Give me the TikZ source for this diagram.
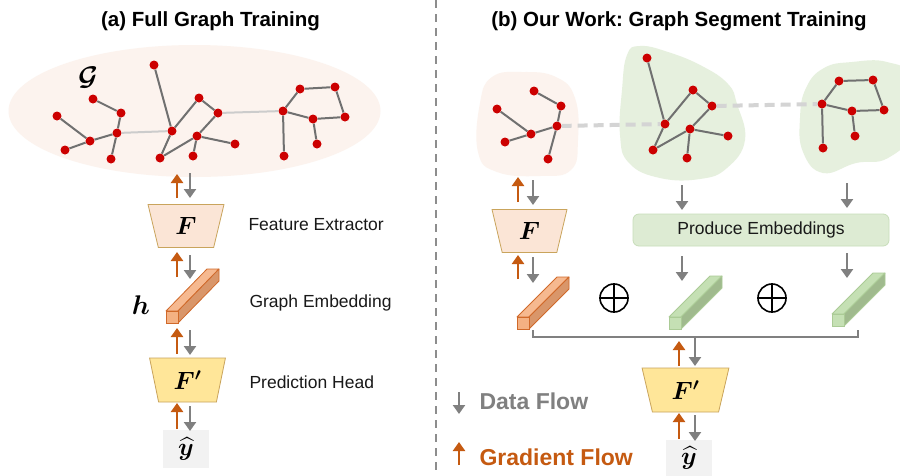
\RequirePackage{fix-cm}
\documentclass[tikz,border=0pt]{standalone}
\usepackage{fontspec}
\setmainfont{Liberation Sans}
\usepackage{amsmath,bm}
\usetikzlibrary{arrows.meta,shapes.geometric,calc}
\frenchspacing
\definecolor{ored}{HTML}{C55A11}
\definecolor{agray}{HTML}{808080}
\definecolor{vred}{HTML}{CC0000}
\definecolor{egray}{HTML}{707070}
\definecolor{peach}{HTML}{FCF3EE}
\definecolor{gblob}{HTML}{E6F0DE}
\definecolor{trapF}{HTML}{FBE5D6}
\definecolor{trapFp}{HTML}{FFE699}
\definecolor{trapdraw}{HTML}{C9A45C}
\definecolor{pebox}{HTML}{DDEBD3}
\definecolor{pebord}{HTML}{C8DEBA}
\definecolor{yhbox}{HTML}{F2F2F2}
\definecolor{oFront}{HTML}{F4B183}
\definecolor{oTop}{HTML}{F6B990}
\definecolor{oSide}{HTML}{D9966A}
\definecolor{oBord}{HTML}{D0692A}
\definecolor{gFront}{HTML}{C5E0B4}
\definecolor{gTop}{HTML}{C5E0B4}
\definecolor{gSide}{HTML}{A0BA8E}
\definecolor{gBord}{HTML}{ABCB96}
\newcommand\embbar[8]{%
  \filldraw[fill=#7,draw=#8,line width=0.8pt,line join=round] (#1,#2) -- ++(12,0) -- ++(#3,#4) -- ++(-12,0) -- cycle;
  \filldraw[fill=#6,draw=#8,line width=0.8pt,line join=round] (#1+12,#2) -- ++(0,12) -- ++(#3,#4) -- ++(0,-12) -- cycle;
  \filldraw[fill=#5,draw=#8,line width=0.8pt] (#1,#2) rectangle ++(12,12);
}
\tikzset{
  vtx/.style={circle, fill=vred, inner sep=0pt, minimum size=9pt},
  edg/.style={draw=egray, line width=2pt},
  lite/.style={draw=black!20, line width=2pt},
  seglink/.style={draw=black!17, line width=4pt, dash pattern=on 10pt off 6pt},
  darr/.style={draw=agray, line width=2.8pt, -{Triangle[width=12pt,length=9pt]}},
  garr/.style={draw=ored, line width=2.8pt, -{Triangle[width=12pt,length=9pt]}},
  trap/.style={trapezium, shape border rotate=180, trapezium stretches=true,
    trapezium left angle=77, trapezium right angle=77, draw=trapdraw, line width=0.8pt,
    inner sep=0pt, font=\fontsize{25}{30}\selectfont},
  lbl/.style={font=\fontsize{17.5}{21}\selectfont, anchor=base west, text=black!90},
  ttl/.style={font=\fontsize{20.5}{24}\selectfont\bfseries, anchor=base},
  oplus/.style={circle, draw=black, line width=1.6pt, minimum size=28pt, inner sep=0pt},
  yhat/.style={fill=yhbox, minimum width=46pt, inner sep=0pt, font=\fontsize{25}{30}\selectfont},
  blob/.style={smooth cycle, tension=0.75}
}
\begin{document}
\begin{tikzpicture}[x=1pt,y=-1pt]
\clip (0,0) rectangle (900,475);
\fill[white] (0,0) rectangle (900,475);
% titles
\node[ttl] (ta) at (210.5,26) {(a) Full Graph Training};
\node[ttl] (tb) at (679,26) {(b) Our Work: Graph Segment Training};
% divider
\draw[agray!90, line width=1.8pt, dash pattern=on 8pt off 6pt] (436,0) -- (436,475);

% ---------- left: full graph ----------
\node[ellipse, fill=peach, minimum width=372pt, minimum height=132pt, inner sep=0pt] (Gell) at (194.5,111) {};
\node[font=\fontsize{27}{32}\selectfont] (Glbl) at (88,78) {$\bm{\mathcal{G}}$};
\foreach \n/\x/\y in {L1/93/99, L2/121/113, L3/57/116, L4/117/133, L5/90/141, L6/65/150, L7/111/159,
  L8/154/65, L9/199/98, L10/218/113, L11/172/131, L12/197/136, L13/235/144, L14/160/158, L15/193/156,
  L16/283/111, L17/300/89, L18/335/87, L19/313/119, L20/345/117, L21/317/144, L22/284/156}
  {\node[vtx] (\n) at (\x,\y) {};}
\foreach \a/\b in {L1/L2, L2/L4, L3/L5, L5/L4, L6/L5, L4/L7, L8/L11, L11/L9, L9/L10, L10/L12, L12/L14,
  L14/L11, L12/L13, L12/L15, L16/L17, L17/L18, L18/L20, L20/L19, L19/L16, L19/L21, L16/L22}
  {\draw[edg] (\a) -- (\b);}
\draw[lite] (L4) -- (L11);
\draw[lite] (L10) -- (L16);

% left pipeline
\node[trap, fill=trapF, minimum width=76pt, minimum height=43pt] (F1) at (186,226) {$\bm{F}$};
\node[lbl] (fe) at (245,230) {Feature Extractor};
\embbar{166}{311}{41}{-42}{oFront}{oSide}{oTop}{oBord}
\node[font=\fontsize{27}{32}\selectfont] (hl) at (141,305) {$\bm{h}$};
\node[lbl] (ge) at (246,307) {Graph Embedding};
\node[trap, fill=trapFp, minimum width=76pt, minimum height=44pt] (F2) at (187.5,380) {$\bm{F'}$};
\node[lbl] (ph) at (246,388) {Prediction Head};
\node[yhat, minimum height=38pt] (Y1) at (186,449) {$\widehat{\bm{y}}$};

% left arrows
\draw[garr] (177,198) -- (177,174);
\draw[darr] (190,173) -- (190,198);
\draw[garr] (177,277) -- (177,252);
\draw[darr] (190,255) -- (190,279);
\draw[garr] (177,354) -- (177,328);
\draw[darr] (190,330) -- (190,355);
\draw[garr] (177,429) -- (177,403);
\draw[darr] (190,406) -- (190,431);

% ---------- right: segments ----------
\fill[peach] plot[blob] coordinates {(492,77) (522,72) (556,77) (575,98) (578,140) (571,170) (540,176) (497,172) (478,152) (480,103)};
\fill[gblob] plot[blob] coordinates {(640,46) (668,52) (702,66) (728,84) (737,104) (745,140) (727,168) (700,179) (660,178) (629,163) (620,135) (622,90) (627,55)};
\fill[gblob] plot[blob] coordinates {(806,88) (824,68) (852,62) (887,62) (910,78) (912,130) (888,158) (856,163) (823,173) (803,152) (800,118)};

\foreach \n/\x/\y in {A1/534/91, A2/561/106, A3/497/109, A4/557/126, A5/531/134, A6/505/142, A7/548/159,
  B1/647/58, B2/693/90, B3/712/106, B4/665/124, B5/690/129, B6/728/136, B7/653/150, B8/687/158,
  C1/822/104, C2/839/81, C3/873/80, C4/852/111, C5/884/110, C6/855/136, C7/823/148}
  {\node[vtx] (\n) at (\x,\y) {};}
\draw[seglink] (A4) -- (B4);
\draw[seglink] (B3) -- (C1);
\foreach \a/\b in {A1/A2, A2/A4, A3/A5, A5/A4, A6/A5, A4/A7,
  B1/B4, B4/B2, B2/B3, B3/B5, B5/B7, B7/B4, B5/B6, B5/B8,
  C1/C2, C2/C3, C3/C5, C5/C4, C4/C1, C4/C6, C1/C7}
  {\draw[edg] (\a) -- (\b);}

% right pipeline
\node[trap, fill=trapF, minimum width=75pt, minimum height=43pt] (F3) at (529.5,231) {$\bm{F}$};
\node[rounded corners=6pt, fill=pebox, draw=pebord, line width=0.8pt, minimum width=256pt, minimum height=32pt,
  font=\fontsize{17.5}{21}\selectfont, text=black!90] (PE) at (761,230) {Produce Embeddings};
\embbar{517}{317}{40}{-40}{oFront}{oSide}{oTop}{oBord}
\embbar{669}{317}{41}{-41}{gFront}{gSide}{gTop}{gBord}
\embbar{832}{314}{41}{-41}{gFront}{gSide}{gTop}{gBord}
\node[oplus] (O1) at (614,298) {};
\draw[line width=1.6pt] (O1.north) -- (O1.south) (O1.west) -- (O1.east);
\node[oplus] (O2) at (772,298) {};
\draw[line width=1.6pt] (O2.north) -- (O2.south) (O2.west) -- (O2.east);
% bracket
\coordinate (bl) at (533,330);
\coordinate (br) at (858,330);
\coordinate (bm) at (695,337);
\draw[agray, line width=2pt] (bl) -- (533,337) -- (858,337) -- (br);
\node[trap, fill=trapFp, minimum width=87pt, minimum height=44pt] (F4) at (685.5,390) {$\bm{F'}$};
\node[yhat, minimum height=36pt] (Y2) at (689,458) {$\widehat{\bm{y}}$};

% right arrows
\draw[garr] (518,202) -- (518,177);
\draw[darr] (533,180) -- (533,205);
\draw[garr] (518,279) -- (518,255);
\draw[darr] (533,257) -- (533,283);
\draw[darr] (682,185) -- (682,210);
\draw[darr] (847,183) -- (847,208);
\draw[darr] (682,256) -- (682,281);
\draw[darr] (847,253) -- (847,278);
\draw[darr] (bm) -- (695,366);
\draw[garr] (679,366) -- (679,341);
\draw[garr] (679,439) -- (679,413);
\draw[darr] (695,415) -- (695,441);

% legend
\draw[darr] (459,392) -- (459,414);
\node[font=\fontsize{23}{27}\selectfont\bfseries, text=agray, anchor=base west] (ldf) at (476,409) {Data Flow};
\draw[garr] (459,465) -- (459,442);
\node[font=\fontsize{23}{27}\selectfont\bfseries, text=ored, anchor=base west] (lgf) at (476,465) {Gradient Flow};
\end{tikzpicture}
\end{document}
